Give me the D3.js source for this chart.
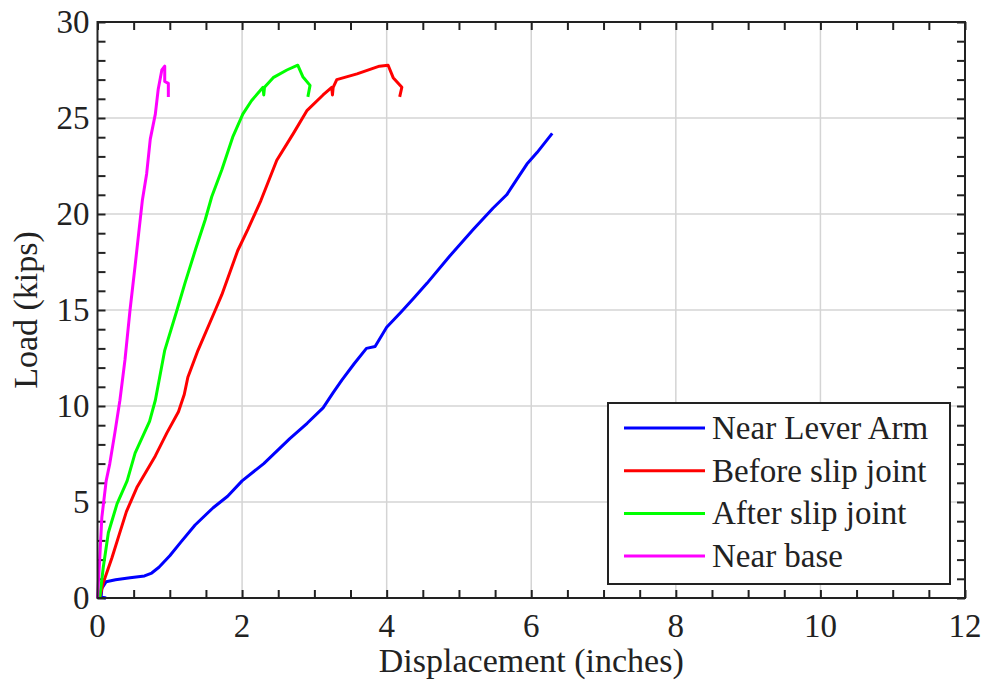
<!DOCTYPE html>
<html>
<head>
<meta charset="utf-8">
<script src="https://cdn.jsdelivr.net/npm/d3@7"></script>
<style>
  body { margin: 0; background: #fff; }
  svg text { font-family: "Liberation Serif", "Times New Roman", serif; fill: #222; }
</style>
</head>
<body>
<div id="chart"></div>
<script>
// displacement (inches), load (kips)
var nearLeverArm = [[0.12,0],[0.05,0.05],[0.06,0.5],[0.12,0.85],[0.25,0.95],[0.45,1.05],[0.65,1.15],[0.75,1.3],
  [0.85,1.6],[1.0,2.2],[1.15,2.9],[1.35,3.8],[1.6,4.7],[1.8,5.3],[2.0,6.1],[2.3,7.0],[2.66,8.3],[2.9,9.1],
  [3.12,9.9],[3.26,10.7],[3.38,11.35],[3.55,12.2],[3.72,13.0],[3.84,13.1],[4.0,14.1],[4.2,14.9],[4.37,15.6],
  [4.56,16.4],[4.87,17.8],[5.2,19.2],[5.47,20.3],[5.66,21.0],[5.8,21.8],[5.94,22.6],[6.08,23.2],[6.29,24.2]];
var beforeSlip = [[0.03,0],[0.08,0.8],[0.2,2.1],[0.3,3.3],[0.4,4.5],[0.55,5.8],[0.8,7.4],[0.96,8.6],[1.12,9.7],
  [1.2,10.6],[1.25,11.5],[1.39,12.9],[1.63,15],[1.72,15.8],[1.94,18.1],[2.08,19.2],[2.26,20.7],[2.48,22.8],[2.71,24.2],
  [2.9,25.4],[3.12,26.2],[3.24,26.6],[3.25,26.2],[3.26,26.6],[3.31,27.0],[3.59,27.3],[3.9,27.7],[4.02,27.75],
  [4.09,27.1],[4.21,26.6],[4.18,26.1]];
var afterSlip = [[0.03,0],[0.08,1.6],[0.15,3.4],[0.27,4.9],[0.41,6.1],[0.52,7.55],[0.72,9.2],[0.8,10.3],
  [0.86,11.5],[0.93,12.9],[1.1,15],[1.21,16.4],[1.36,18.2],[1.49,19.7],[1.58,20.9],[1.72,22.3],[1.87,24.0],[2.01,25.2],
  [2.13,25.9],[2.29,26.6],[2.30,26.2],[2.31,26.6],[2.43,27.1],[2.62,27.5],[2.77,27.75],[2.84,27.15],
  [2.94,26.7],[2.91,26.1]];
var nearBase = [[0,0],[0.03,2.0],[0.06,4.2],[0.12,6.1],[0.17,7.0],[0.24,8.6],[0.31,10.3],[0.38,12.4],[0.45,15],
  [0.52,17.3],[0.57,19.0],[0.62,20.7],[0.68,22.1],[0.73,23.9],[0.8,25.2],[0.84,26.5],[0.89,27.5],[0.93,27.7],
  [0.93,26.9],[0.98,26.8],[0.98,26.1]];

var seriesNames = ["Near Lever Arm", "Before slip joint", "After slip joint", "Near base"];
var seriesColors = ["#0000ff", "#ff0000", "#00ff00", "#ff00ff"];
var seriesData = [nearLeverArm, beforeSlip, afterSlip, nearBase];

var xMajor = [0, 2, 4, 6, 8, 10, 12];
var yMajor = [0, 5, 10, 15, 20, 25, 30];

var W = 984, H = 684;
var margin = { top: 22, right: 19, bottom: 86, left: 97.5 },
    width = W - margin.left - margin.right,
    height = H - margin.top - margin.bottom;

var svg = d3.select("#chart").append("svg")
    .attr("width", W)
    .attr("height", H);

var g = svg.append("g")
    .attr("transform", "translate(" + margin.left + "," + margin.top + ")");

var x = d3.scaleLinear().domain([0, 12]).range([0, width]);
var y = d3.scaleLinear().domain([0, 30]).range([height, 0]);

// grid
g.append("g").selectAll("line")
    .data(xMajor.slice(1, -1))
    .enter().append("line")
    .attr("x1", d => x(d)).attr("x2", d => x(d))
    .attr("y1", 0).attr("y2", height)
    .attr("stroke", "#d4d4d4").attr("stroke-width", 1.5);
g.append("g").selectAll("line")
    .data(yMajor.slice(1, -1))
    .enter().append("line")
    .attr("y1", d => y(d)).attr("y2", d => y(d))
    .attr("x1", 0).attr("x2", width)
    .attr("stroke", "#d4d4d4").attr("stroke-width", 1.5);

// inward ticks on all four sides
var xTicks = d3.range(0, 12.01, 0.5);
var yTicks = d3.range(0, 30.01, 1);
var tl = 8;
function tickAxis(axis) {
  return function(sel) {
    sel.call(axis);
    sel.select(".domain").remove();
    sel.selectAll("line").attr("stroke", "#222").attr("stroke-width", 2);
    sel.selectAll("text").remove();
  };
}
g.append("g").attr("transform", "translate(0," + height + ")")
    .call(tickAxis(d3.axisBottom(x).tickValues(xTicks).tickSize(-tl)));
g.append("g")
    .call(tickAxis(d3.axisTop(x).tickValues(xTicks).tickSize(-tl)));
g.append("g")
    .call(tickAxis(d3.axisLeft(y).tickValues(yTicks).tickSize(-tl)));
g.append("g").attr("transform", "translate(" + width + ",0)")
    .call(tickAxis(d3.axisRight(y).tickValues(yTicks).tickSize(-tl)));

// tick labels
g.append("g").selectAll("text")
    .data(xMajor)
    .enter().append("text")
    .attr("x", d => x(d))
    .attr("y", height + 39)
    .attr("text-anchor", "middle")
    .style("font-size", "33px")
    .text(d => d);
g.append("g").selectAll("text")
    .data(yMajor)
    .enter().append("text")
    .attr("x", -8)
    .attr("y", d => y(d) + 11)
    .attr("text-anchor", "end")
    .style("font-size", "33px")
    .text(d => d);

// curves
var line = d3.line().x(d => x(d[0])).y(d => y(d[1]));
g.append("g").selectAll("path")
    .data(seriesData)
    .enter().append("path")
    .attr("d", line)
    .attr("fill", "none")
    .attr("stroke", (d, i) => seriesColors[i])
    .attr("stroke-width", 3)
    .attr("stroke-linejoin", "round");

// frame
g.append("rect")
    .attr("width", width).attr("height", height)
    .attr("fill", "none")
    .attr("stroke", "#222").attr("stroke-width", 2);

// axis titles
svg.append("text")
    .attr("x", margin.left + width / 2)
    .attr("y", 672)
    .attr("text-anchor", "middle")
    .style("font-size", "34px")
    .text("Displacement (inches)");
svg.append("text")
    .attr("transform", "translate(37," + (margin.top + height / 2) + ") rotate(-90)")
    .attr("text-anchor", "middle")
    .style("font-size", "34px")
    .text("Load (kips)");

// legend
var legend = svg.append("g").attr("transform", "translate(608,403)");
legend.append("rect")
    .attr("width", 342).attr("height", 181)
    .attr("fill", "#fff")
    .attr("stroke", "#222").attr("stroke-width", 2);
var rows = legend.selectAll(".row")
    .data(seriesNames)
    .enter().append("g")
    .attr("transform", (d, i) => "translate(0," + (25 + i * 42.7) + ")");
rows.append("line")
    .attr("x1", 16).attr("x2", 97)
    .attr("stroke", (d, i) => seriesColors[i])
    .attr("stroke-width", 3);
rows.append("text")
    .attr("x", 104)
    .attr("y", 11)
    .style("font-size", "33px")
    .text(d => d);
</script>
</body>
</html>
